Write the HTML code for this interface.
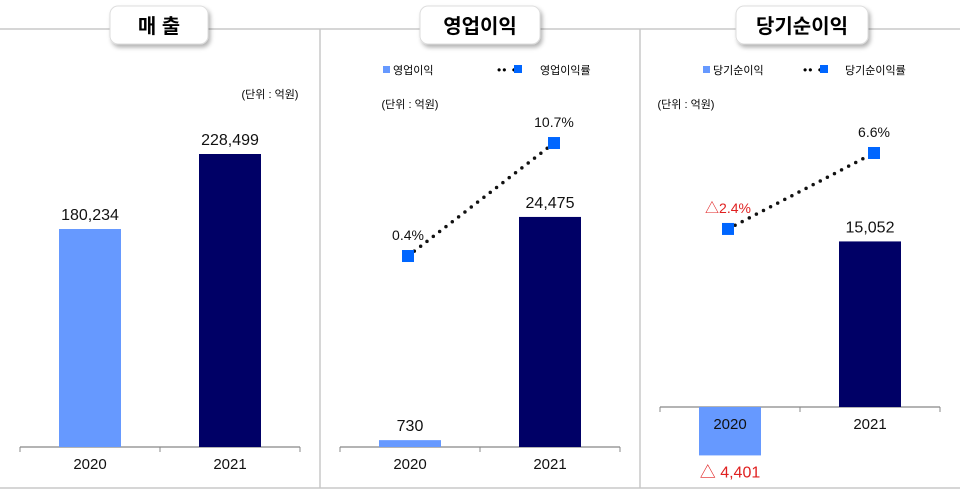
<!DOCTYPE html>
<html><head><meta charset="utf-8">
<style>
body{margin:0;background:#fff;}
svg{display:block;font-family:"Liberation Sans","Noto Sans CJK KR",sans-serif;}
</style></head>
<body>
<svg id="c" width="960" height="490" viewBox="0 0 960 490">
<defs><filter id="sh" x="-20%" y="-20%" width="150%" height="160%"><feDropShadow dx="2" dy="3" stdDeviation="2" flood-color="#000" flood-opacity="0.3"/></filter></defs>
<g stroke="#c8c8c8" stroke-width="1.5" fill="none">
<line x1="0" y1="29" x2="960" y2="29"/>
<line x1="320" y1="29" x2="320" y2="488"/>
<line x1="640" y1="29" x2="640" y2="488"/>
<line x1="0" y1="488" x2="960" y2="488"/>
</g>
<g><rect x="110" y="6" width="98" height="38" rx="8" fill="#fff" stroke="#ddd" filter="url(#sh)"/><text x="159" y="33" text-anchor="middle" font-size="20" font-weight="bold">매 출</text></g>
<g><rect x="420" y="6" width="120" height="38" rx="8" fill="#fff" stroke="#ddd" filter="url(#sh)"/><text x="480" y="33" text-anchor="middle" font-size="20" font-weight="bold">영업이익</text></g>
<g><rect x="736" y="6" width="132" height="38" rx="8" fill="#fff" stroke="#ddd" filter="url(#sh)"/><text x="802" y="33" text-anchor="middle" font-size="20" font-weight="bold">당기순이익</text></g>
<text x="270" y="98" text-anchor="middle" font-size="11">(단위 : 억원)</text>
<text x="410" y="108" text-anchor="middle" font-size="11">(단위 : 억원)</text>
<text x="686" y="108" text-anchor="middle" font-size="11">(단위 : 억원)</text>
<g font-size="11">
<rect x="383" y="66" width="7" height="7" fill="#6699ff"/><text x="393" y="74">영업이익</text>
<text x="497" y="74" font-size="12" letter-spacing="1">•• ••</text><rect x="514" y="65" width="8" height="8" fill="#0066ff"/><text x="540" y="74">영업이익률</text>
</g>
<g font-size="11">
<rect x="703" y="66" width="7" height="7" fill="#6699ff"/><text x="713" y="74">당기순이익</text>
<text x="803" y="74" font-size="12" letter-spacing="1">•• ••</text><rect x="820" y="65" width="8" height="8" fill="#0066ff"/><text x="845" y="74">당기순이익률</text>
</g>
<g id="g"></g>
</svg>
<script>
const years=["2020","2021"];
const salesVals=[180234,228499];
const opVals=[730,24475];
const opRates=[0.4,10.7];
const netVals=[-4401,15052];
const netRates=[-2.4,6.6];
const NS="http://www.w3.org/2000/svg";
const g=document.getElementById('g');
function mk(t,a,p){const e=document.createElementNS(NS,t);for(const k in a)e.setAttribute(k,a[k]);(p||g).appendChild(e);return e;}
function fmt(v){return Math.abs(v).toLocaleString('en-US');}
function chart(x0,base,vals,yv,cols,neg){
  const ax=mk('g',{});
  
  
  mk('line',{x1:x0,y1:base,x2:x0+280,y2:base,stroke:'#888','stroke-width':1.2},ax);
  [0,140,280].forEach(d=>mk('line',{x1:x0+d,y1:base,x2:x0+d,y2:base+5,stroke:'#888'},ax));
  vals.forEach((v,i)=>{
    const cx=x0+70+i*140;const y=yv(v);
    const r=mk('rect',{x:cx-31,y:Math.min(y,base),width:62,height:Math.max(1,Math.abs(base-y)),fill:cols[i]});
    
    
    const t=mk('text',{x:cx,'text-anchor':'middle','font-size':16,fill:v<0?'#e02020':'#111'});
    
    
    if(v<0){t.setAttribute('y',y+22);t.textContent='△ '+fmt(v);}
    else{t.setAttribute('y',y-9);t.textContent=fmt(v);}
    const yl=mk('text',{x:cx,y:base+22,'text-anchor':'middle','font-size':15,fill:'#111'});
    
    
    yl.textContent=years[i];
  });
}
function line(x0,rates,yr){
  const pts=rates.map((r,i)=>[x0+70+i*146-(i?0:0),yr(r)]);
  pts[0][0]=x0+68;pts[1][0]=x0+214;
  const l=mk('line',{x1:pts[0][0],y1:pts[0][1],x2:pts[1][0],y2:pts[1][1],stroke:'#111','stroke-width':3.5,'stroke-dasharray':'0 8','stroke-linecap':'round'});
  
  
  pts.forEach((p,i)=>{
    const m=mk('rect',{x:p[0]-6,y:p[1]-6,width:12,height:12,fill:'#0066ff'});
    
    
    const t=mk('text',{x:p[0]+(i?0:0),y:p[1]-16,'text-anchor':'middle','font-size':14,fill:rates[i]<0?'#e02020':'#111'});
    
    
    t.textContent=(rates[i]<0?'△':'')+Math.abs(rates[i]).toFixed(1)+'%';
  });
}
const cols=['#6699ff','#000066'];
chart(20,447,salesVals,v=>447-(v-39954)*0.001554,cols);
chart(340,447,opVals,v=>447-v*0.0094,cols);
line(340,opRates,r=>260.4-r*10.97);
chart(660,407,netVals,v=>407-v*0.011,cols);
line(660,netRates,r=>208.7-r*8.44);
</script>
</body></html>
